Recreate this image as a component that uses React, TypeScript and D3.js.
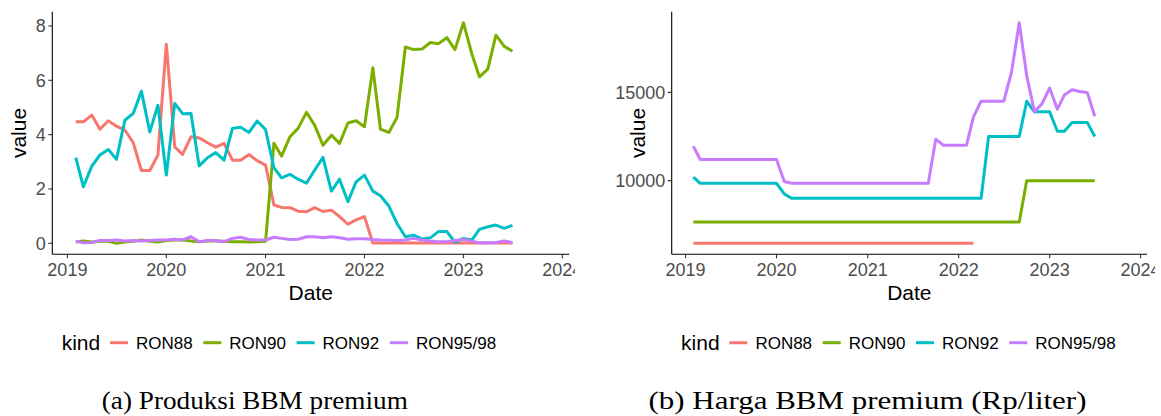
import React from 'react';
import * as d3 from 'd3';

// months: Feb 2019 .. Jul 2023
const months = d3.timeMonth.range(new Date(2019, 1, 1), new Date(2023, 7, 1));
const kinds = ['RON88', 'RON90', 'RON92', 'RON95/98'];
const colors = ['#F8766D', '#7CAE00', '#00BFC4', '#C77CFF'];

// (a) produksi
const prodRON88 = [
  4.47, 4.47, 4.72, 4.2, 4.51, 4.31, 4.17, 3.7, 2.68, 2.68, 3.25, 7.33, 3.55, 3.27, 3.92, 3.88, 3.7, 3.54,
  3.68, 3.06, 3.06, 3.27, 3.04, 2.88, 1.41, 1.32, 1.31, 1.18, 1.16, 1.31, 1.17, 1.22, 0.98, 0.7, 0.86, 0.98,
  0.01, 0.01, 0.01, 0.01, 0.01, 0.01, 0.01, 0.01, 0.01, 0.01, 0.01, 0.01, 0.01, 0.01, 0.01, 0.01, 0.01, 0.01,
];
const prodRON90 = [
  0.05, 0.08, 0.05, 0.07, 0.07, 0.0, 0.05, 0.07, 0.12, 0.07, 0.05, 0.1, 0.12, 0.12, 0.08, 0.06, 0.08, 0.08,
  0.07, 0.06, 0.06, 0.05, 0.06, 0.07, 3.68, 3.21, 3.92, 4.23, 4.82, 4.35, 3.61, 3.98, 3.68, 4.43, 4.51, 4.29,
  6.46, 4.2, 4.08, 4.63, 7.23, 7.13, 7.15, 7.39, 7.35, 7.57, 7.13, 8.12, 6.98, 6.13, 6.41, 7.66, 7.25, 7.07,
];
const prodRON92 = [
  3.15, 2.08, 2.84, 3.25, 3.45, 3.09, 4.53, 4.78, 5.6, 4.1, 5.08, 2.51, 5.15, 4.77, 4.78, 2.85, 3.15, 3.34,
  3.06, 4.23, 4.27, 4.08, 4.5, 4.19, 2.78, 2.41, 2.54, 2.36, 2.21, 2.69, 3.16, 1.92, 2.36, 1.53, 2.26, 2.51,
  1.92, 1.75, 1.37, 0.73, 0.24, 0.3, 0.16, 0.2, 0.43, 0.43, 0.04, 0.18, 0.12, 0.51, 0.61, 0.67, 0.55, 0.66,
];
const prodRON95 = [
  0.08, 0.02, 0.03, 0.1, 0.1, 0.12, 0.08, 0.1, 0.08, 0.1, 0.12, 0.12, 0.15, 0.12, 0.24, 0.06, 0.1, 0.1,
  0.06, 0.18, 0.22, 0.14, 0.12, 0.12, 0.22, 0.18, 0.14, 0.15, 0.24, 0.24, 0.2, 0.24, 0.2, 0.15, 0.17, 0.17,
  0.14, 0.12, 0.11, 0.1, 0.12, 0.18, 0.12, 0.08, 0.06, 0.06, 0.1, 0.14, 0.08, 0.02, 0.02, 0.03, 0.08, 0.03,
];

// (b) harga, Rp/liter
const priceRON88 = [
  6450, 6450, 6450, 6450, 6450, 6450, 6450, 6450, 6450, 6450, 6450, 6450, 6450, 6450, 6450, 6450, 6450, 6450,
  6450, 6450, 6450, 6450, 6450, 6450, 6450, 6450, 6450, 6450, 6450, 6450, 6450, 6450, 6450, 6450, 6450, 6450,
  6450, 6450, null, null, null, null, null, null, null, null, null, null, null, null, null, null, null, null,
];
const priceRON90 = [
  7650, 7650, 7650, 7650, 7650, 7650, 7650, 7650, 7650, 7650, 7650, 7650, 7650, 7650, 7650, 7650, 7650, 7650,
  7650, 7650, 7650, 7650, 7650, 7650, 7650, 7650, 7650, 7650, 7650, 7650, 7650, 7650, 7650, 7650, 7650, 7650,
  7650, 7650, 7650, 7650, 7650, 7650, 7650, 7650, 10000, 10000, 10000, 10000, 10000, 10000, 10000, 10000, 10000, 10000,
];
const priceRON92 = [
  10200, 9850, 9850, 9850, 9850, 9850, 9850, 9850, 9850, 9850, 9850, 9850, 9250, 9000, 9000, 9000, 9000, 9000,
  9000, 9000, 9000, 9000, 9000, 9000, 9000, 9000, 9000, 9000, 9000, 9000, 9000, 9000, 9000, 9000, 9000, 9000,
  9000, 9000, 9000, 12500, 12500, 12500, 12500, 12500, 14500, 13900, 13900, 13900, 12800, 12800, 13300, 13300, 13300, 12500,
];
const priceRON95 = [
  11950, 11200, 11200, 11200, 11200, 11200, 11200, 11200, 11200, 11200, 11200, 11200, 9950, 9850, 9850, 9850, 9850, 9850,
  9850, 9850, 9850, 9850, 9850, 9850, 9850, 9850, 9850, 9850, 9850, 9850, 9850, 9850, 12350, 12000, 12000, 12000,
  12000, 13600, 14500, 14500, 14500, 14500, 16150, 18950, 15950, 13900, 14350, 15250, 14050, 14850, 15150, 15050, 15000, 13650,
];

const prodTicks = [0, 2, 4, 6, 8];
const priceTicks = [10000, 15000];
// ggplot keeps the date range of the full frame (to Nov 2023)
const dateLimits = [new Date(2019, 1, 1), new Date(2023, 10, 1)];

const sans = '"Liberation Sans", Arial, sans-serif';
const serif = '"Liberation Serif", "Times New Roman", serif';

const expand = (lo, hi) => [lo - (hi - lo) * 0.05, hi + (hi - lo) * 0.05];

const Panel = ({ series, yTicks, yLimits, left, right, caption, captionLen, clipRight, id }) => {
  const top = 11.7;
  const bottom = 254.3;
  const [d0, d1] = expand(+dateLimits[0], +dateLimits[1]);
  const x = d3.scaleTime().domain([new Date(d0), new Date(d1)]).range([left, right]);
  const y = d3.scaleLinear().domain(expand(yLimits[0], yLimits[1])).range([bottom, top]);
  const line = d3.line()
    .defined(d => d[1] != null)
    .x(d => x(d[0]))
    .y(d => y(d[1]));
  const years = x.ticks(d3.timeYear.every(1));
  const mid = (left + right) / 2;
  const legX = left + 9.4;

  return (
    <g clipPath={`url(#${id})`}>
      <defs>
        <clipPath id={id}>
          <rect x={left - 60} y={0} width={clipRight - left + 60} height={416} />
        </clipPath>
      </defs>
      {series.map((vals, k) => (
        <path key={kinds[k]}
          d={line(months.map((m, i) => [m, vals[i]]))}
          fill="none" stroke={colors[k]} strokeWidth={3} strokeLinejoin="round" />
      ))}
      {/* axes */}
      <line x1={left} x2={left} y1={top} y2={bottom} stroke="#000" strokeWidth={1.1} />
      <line x1={left} x2={right} y1={bottom} y2={bottom} stroke="#000" strokeWidth={1.1} />
      {yTicks.map(v => (
        <g key={v}>
          <line x1={left - 4} x2={left} y1={y(v)} y2={y(v)} stroke="#333" strokeWidth={1.1} />
          <text x={left - 6.5} y={y(v)} dy="0.36em" textAnchor="end" fontFamily={sans} fontSize={18} fill="#4D4D4D">{v}</text>
        </g>
      ))}
      {years.map(d => (
        <g key={+d}>
          <line x1={x(d)} x2={x(d)} y1={bottom} y2={bottom + 4} stroke="#333" strokeWidth={1.1} />
          <text x={x(d)} y={275.7} textAnchor="middle" fontFamily={sans} fontSize={18} fill="#4D4D4D">{d.getFullYear()}</text>
        </g>
      ))}
      <text x={mid} y={300} textAnchor="middle" fontFamily={sans} fontSize={21} fill="#000">Date</text>
      <text transform={`translate(${left - 26.5},${(top + bottom) / 2}) rotate(-90)`} textAnchor="middle"
        fontFamily={sans} fontSize={21} fill="#000">value</text>
      {/* legend */}
      <text x={legX} y={350} fontFamily={sans} fontSize={21} fill="#000">kind</text>
      {kinds.map((k, i) => {
        const kx = legX + 48.3 + i * 93.3;
        return (
          <g key={k}>
            <line x1={kx} x2={kx + 18} y1={342.7} y2={342.7} stroke={colors[i]} strokeWidth={3} />
            <text x={kx + 26} y={349} fontFamily={sans} fontSize={17} fill="#000">{k}</text>
          </g>
        );
      })}
      <text x={captionLen.center} y={409} textAnchor="middle" fontFamily={serif} fontSize={26}
        textLength={captionLen.width} lengthAdjust="spacingAndGlyphs" fill="#000">{caption}</text>
    </g>
  );
};

export default function App() {
  return (
    <svg width={1161} height={416} style={{ position: 'absolute', left: 0, top: 0, background: '#fff' }}>
      <rect width={1161} height={416} fill="#fff" />
      <Panel id="clipA"
        series={[prodRON88, prodRON90, prodRON92, prodRON95]}
        yTicks={prodTicks} yLimits={[0, 8.12]}
        left={52.3} right={569.3} clipRight={575}
        caption="(a) Produksi BBM premium" captionLen={{ center: 254.8, width: 306 }} />
      <Panel id="clipB"
        series={[priceRON88, priceRON90, priceRON92, priceRON95]}
        yTicks={priceTicks} yLimits={[6450, 18950]}
        left={671.7} right={1147} clipRight={1155}
        caption="(b) Harga BBM premium (Rp/liter)" captionLen={{ center: 867.5, width: 438 }} />
    </svg>
  );
}
